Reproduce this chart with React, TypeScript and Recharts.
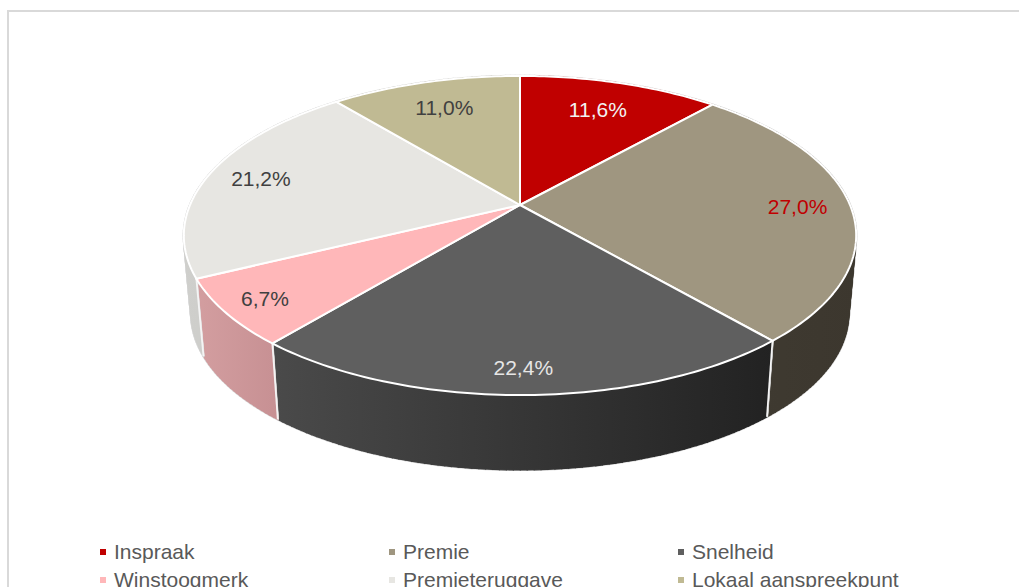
import { Legend, Pie, PieChart } from 'recharts';

const names = ['Inspraak', 'Premie', 'Snelheid', 'Winstoogmerk', 'Premieteruggave', 'Lokaal aanspreekpunt'];
const shares = [11.6, 27.0, 22.4, 6.7, 21.2, 11.0];
const topColors = ['#c00000', '#9f9680', '#5f5f5f', '#ffb7b9', '#e7e6e2', '#c0ba93'];
const wallFrom = ['#8f0000', '#403b32', '#4a4a4a', '#d39ea0', '#cfcfcc', '#8f8b6c'];
const wallTo = ['#8f0000', '#3c372e', '#222222', '#c79093', '#c4c4c1', '#8f8b6c'];
const labelColors = ['#f2f2f2', '#c00000', '#e6e6e6', '#404040', '#404040', '#404040'];
const labelReach = [0.75, 0.84, 0.88, 0.88, 0.83, 0.77];

const slices = names.map((name, i) => ({ name, value: shares[i], fill: topColors[i] }));

// the disc is tilted in perspective, so the apex sits above the middle of the ellipse
const TILT = 0.191;
const SQUASH = 0.466;
const DEPTH = 79;
const BASE_SCALE = 0.978;

function project(cx: number, cy: number, r: number, deg: number, reach = 1, scale = 1, drop = 0) {
  const a = (deg * Math.PI) / 180;
  const u = Math.cos(a) * reach;
  const v = Math.sin(a) * reach;
  const d = 1 + TILT * v;
  return {
    x: cx + (scale * r * u) / d,
    y: cy + drop - (scale * r * SQUASH * v) / d,
  };
}

function arc(p: any, scale = 1, drop = 0) {
  const pts = [];
  const steps = Math.max(2, Math.ceil(Math.abs(p.endAngle - p.startAngle)));
  for (let i = 0; i <= steps; i++) {
    const deg = p.startAngle + ((p.endAngle - p.startAngle) * i) / steps;
    pts.push(project(p.cx, p.cy, p.outerRadius, deg, 1, scale, drop));
  }
  return pts;
}

const toPath = (pts: { x: number; y: number }[]) =>
  pts.map((q, i) => `${i ? 'L' : 'M'}${q.x.toFixed(2)},${q.y.toFixed(2)}`).join(' ');

// wall is swept quad by quad for the cylinder's straight silhouette,
// then one solid outline goes over it so the quad seams don't show
function WallSlice(props: any) {
  const i = names.indexOf(props.name ?? props.payload?.name);
  const top = arc(props);
  const bottom = arc(props, BASE_SCALE, DEPTH);
  const quads = top.slice(1).map((q, k) => toPath([top[k], q, bottom[k + 1], bottom[k]]) + ' Z');
  const outline = toPath([...top, ...[...bottom].reverse()]) + ' Z';
  const xs = [...top, ...bottom].map((q) => q.x);
  const id = `wall-${i}`;
  const last = top.length - 1;
  return (
    <g>
      <defs>
        <linearGradient id={id} gradientUnits="userSpaceOnUse" x1={Math.min(...xs)} y1="0" x2={Math.max(...xs)} y2="0">
          <stop offset="0%" stopColor={wallFrom[i]} />
          <stop offset="100%" stopColor={wallTo[i]} />
        </linearGradient>
      </defs>
      {quads.map((d, k) => (
        <path key={`rim-${k}`} d={d} fill="none" stroke="#d8d8d8" strokeWidth={2.4} strokeLinejoin="round" />
      ))}
      {quads.map((d, k) => (
        <path key={`fill-${k}`} d={d} fill={`url(#${id})`} stroke={`url(#${id})`} strokeWidth={1.2} />
      ))}
      <path d={outline} fill={`url(#${id})`} />
      <path d={toPath([top[0], bottom[0]])} stroke="#f4f4f4" strokeWidth={1.8} />
      <path d={toPath([top[last], bottom[last]])} stroke="#f4f4f4" strokeWidth={1.8} />
    </g>
  );
}

function TopSlice(props: any) {
  const apex = { x: props.cx, y: props.cy };
  return (
    <path
      d={`${toPath([apex, ...arc(props)])} Z`}
      fill={props.fill}
      stroke="#ffffff"
      strokeWidth={2}
      strokeLinejoin="round"
    />
  );
}

function SliceLabel(props: any) {
  const i = props.index;
  const q = project(props.cx, props.cy, props.outerRadius, props.midAngle, labelReach[i]);
  return (
    <text
      x={q.x}
      y={q.y}
      textAnchor="middle"
      dominantBaseline="central"
      fontFamily="'Liberation Sans', Arial, sans-serif"
      fontSize={21}
      fill={labelColors[i]}
    >
      {shares[i].toFixed(1).replace('.', ',') + '%'}
    </text>
  );
}

function LegendRows({ payload }: any) {
  const items = (payload ?? []).filter((p: any) => p.type !== 'none');
  return (
    <div style={{ display: 'grid', gridTemplateColumns: 'repeat(3, 289px)', marginLeft: 100, lineHeight: '28px' }}>
      {items.map((p: any) => (
        <div key={p.value} style={{ display: 'flex', alignItems: 'center', color: '#595959', fontSize: 21 }}>
          <span style={{ width: 6, height: 6, background: p.color, marginRight: 8 }} />
          {p.value}
        </div>
      ))}
    </div>
  );
}

export default function App() {
  return (
    <div style={{ position: 'absolute', left: 0, top: 0, width: 1019, height: 587, overflow: 'hidden', background: '#fff' }}>
      <div style={{ position: 'absolute', left: 7, top: 10, width: 1100, height: 700, border: '2px solid #d9d9d9', boxSizing: 'border-box' }} />
      <div style={{ position: 'absolute', left: 0, top: 0, fontFamily: "'Liberation Sans', Arial, sans-serif" }}>
        <PieChart width={1019} height={640} margin={{ top: 0, right: 0, bottom: 0, left: 0 }}>
          <Pie
            data={slices}
            dataKey="value"
            nameKey="name"
            cx={520}
            cy={205}
            outerRadius={330}
            startAngle={90}
            endAngle={-270}
            legendType="none"
            shape={WallSlice}
            isAnimationActive={false}
          />
          <Pie
            data={slices}
            dataKey="value"
            nameKey="name"
            cx={520}
            cy={205}
            outerRadius={330}
            startAngle={90}
            endAngle={-270}
            shape={TopSlice}
            label={SliceLabel}
            labelLine={false}
            isAnimationActive={false}
          />
          <Legend
            content={LegendRows}
            itemSorter={null}
            wrapperStyle={{ position: 'absolute', left: 0, top: 538, bottom: 'auto', width: 1019 }}
          />
        </PieChart>
      </div>
    </div>
  );
}
